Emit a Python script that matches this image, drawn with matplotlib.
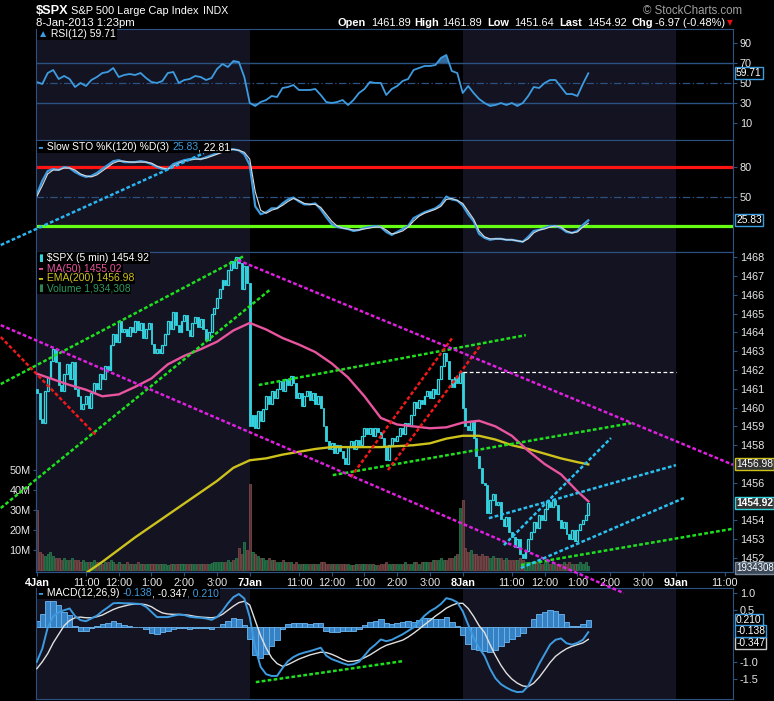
import numpy as np
import matplotlib
matplotlib.use("Agg")
import matplotlib.pyplot as plt

W, H = 774, 701
plt.rcParams["font.family"] = ["Liberation Sans", "DejaVu Sans"]

# ---------------- DATA ----------------
# 5 min bars, 78 per session: 4Jan = 0..77, 7Jan = 78..155, 8Jan = 156..202
session_starts = [0, 78, 156, 234]
tick_bars = [0, 18, 30, 42, 54, 66, 78, 96, 108, 120, 132, 144,
             156, 174, 186, 198, 210, 222, 234, 252]
tick_labels = ["4Jan", "11:00", "12:00", "1:00", "2:00", "3:00",
               "7Jan", "11:00", "12:00", "1:00", "2:00", "3:00",
               "8Jan", "11:00", "12:00", "1:00", "2:00", "3:00",
               "9Jan", "11:00"]
day_labels = ["4Jan", "7Jan", "8Jan", "9Jan"]

first_open = 1461.0
closes = [
    # 4Jan
    1460.8, 1459.4, 1459.2, 1460.9, 1461.6, 1462.5, 1463.1, 1462.4, 1461.2, 1460.9,
    1461.8, 1462.3, 1461.5, 1462.4, 1461.0, 1460.6, 1459.9, 1460.2, 1460.6, 1460.0,
    1460.8, 1461.3, 1461.0, 1461.8, 1461.5, 1462.2, 1462.0, 1463.3, 1463.9, 1463.5,
    1464.6, 1464.0, 1464.2, 1463.8, 1464.3, 1464.0, 1464.6, 1464.1, 1464.5, 1463.7,
    1464.2, 1464.5, 1463.4, 1462.9, 1463.1, 1462.9, 1463.3, 1463.9, 1464.6, 1464.2,
    1465.1, 1464.4, 1464.0, 1464.6, 1464.9, 1464.1, 1463.8, 1464.5, 1464.8, 1464.3,
    1464.7, 1464.2, 1463.6, 1464.0, 1465.0, 1465.3, 1465.8, 1466.3, 1466.8, 1466.5,
    1467.3, 1467.8, 1467.4, 1468.0, 1467.7, 1466.3, 1467.5, 1466.6,
    # 7Jan
    1459.0, 1459.6, 1458.9, 1459.8, 1459.3, 1459.9, 1460.6, 1460.2, 1460.9, 1460.5,
    1461.0, 1461.4, 1460.9, 1461.5, 1461.2, 1461.7, 1461.3, 1460.5, 1460.8, 1460.1,
    1460.6, 1460.9, 1460.4, 1460.8, 1460.2, 1460.6, 1460.0, 1459.0, 1458.2, 1457.8,
    1458.1, 1457.6, 1458.0, 1457.7, 1457.3, 1457.0, 1457.9, 1458.2, 1457.8, 1458.3,
    1458.0, 1458.5, 1458.9, 1458.6, 1458.9, 1458.5, 1458.9, 1458.7, 1458.4, 1457.9,
    1457.2, 1458.0, 1458.4, 1458.2, 1458.5, 1458.9, 1458.6, 1459.2, 1459.0, 1459.6,
    1460.3, 1460.0, 1460.4, 1460.2, 1460.6, 1460.9, 1460.5, 1461.0, 1460.7, 1461.5,
    1462.2, 1462.9, 1462.5, 1461.5, 1461.1, 1461.6, 1461.3, 1461.9,
    # 8Jan
    1460.0, 1459.0, 1458.8, 1459.3, 1458.4, 1457.4, 1456.8, 1456.0, 1455.9, 1454.4,
    1455.1, 1455.4, 1454.8, 1455.0, 1454.1, 1453.7, 1454.2, 1453.4, 1453.1, 1452.6,
    1453.0, 1452.2, 1452.0, 1452.4, 1453.0, 1453.4, 1453.9, 1453.6, 1454.3, 1454.0,
    1454.6, 1455.0, 1454.7, 1455.1, 1454.8, 1454.0, 1453.6, 1453.9, 1453.3, 1453.0,
    1453.5, 1452.9, 1453.5, 1453.8, 1454.0, 1454.3, 1454.92,
]

volume_m = [
    # 4Jan
    30, 9, 8, 7, 8, 9, 7, 6, 6, 5,
    6, 5, 5, 6, 5, 5, 4, 5, 4, 4,
    4, 5, 4, 4, 3, 4, 4, 5, 4, 3,
    4, 3, 3, 4, 3, 3, 3, 4, 3, 3,
    3, 3, 3, 3, 3, 3, 3, 3, 2.5, 3,
    3, 3, 3, 3, 3, 3, 3, 3, 3, 3,
    3, 3, 3, 3, 3.5, 4, 4, 4, 4, 4,
    5, 4, 5, 6, 11, 8, 14, 10,
    # 7Jan
    43, 9, 8, 7, 6, 6, 5, 6, 5, 5,
    4, 4, 5, 4, 4, 4, 3, 4, 3, 3,
    3, 3, 3, 3, 3, 3, 4, 4, 3, 3,
    3, 3, 3, 3, 3, 3, 3, 2.5, 2.5, 3,
    3, 3, 3, 3, 3, 3, 2.5, 2.5, 3, 3,
    4, 3, 3, 3, 3, 3, 3, 4, 3, 3,
    4, 4, 3, 4, 4, 4, 4, 5, 5, 5,
    6, 5, 5, 6, 6, 7, 8, 31,
    # 8Jan
    35, 11, 9, 10, 8, 8, 7, 8, 7, 7,
    6, 7, 6, 6, 6, 5, 6, 5, 5, 5,
    5, 6, 5, 4, 4, 4, 4, 4, 4, 3,
    4, 4, 3, 4, 3, 3, 3, 4, 3, 4,
    3, 3, 3, 4, 3, 4, 1.93,
]

# indicators read every 2 bars
t2 = np.arange(0, 203, 2)
rsi = [
    51, 49, 60, 63, 54, 57, 54, 46, 50, 47,
    53, 56, 60, 61, 65, 56, 58, 59, 58, 60,
    55, 51, 50, 52, 60, 61, 50, 53, 54, 57,
    56, 53, 55, 64, 69, 66, 72, 71, 56, 30,
    27, 31, 33, 37, 36, 45, 46, 48, 43, 43,
    43, 44, 38, 31, 30, 31, 33, 28, 33, 40,
    44, 51, 50, 50, 38, 44, 47, 52, 54, 63,
    65, 67, 67, 68, 75, 78, 62, 60, 40, 47,
    40, 34, 30, 27, 28, 30, 28, 30, 27, 30,
    37, 46, 45, 50, 53, 53, 46, 39, 39, 37,
    49, 59.71,
]
sto_k = [
    52, 66, 76, 78, 77, 80, 79, 75, 72, 70,
    71, 74, 78, 82, 86, 87, 85, 85, 85, 86,
    85, 83, 80, 78, 78, 83, 85, 87, 88, 89,
    88, 90, 92, 94, 96, 98, 98, 97, 93, 82,
    40, 32, 34, 38, 38, 43, 47, 49, 45, 42,
    42, 43, 37, 29, 22, 19, 18, 17, 15, 16,
    18, 19, 20, 19, 14, 11, 14, 17, 20, 28,
    31, 34, 36, 38, 42, 50, 47, 46, 41, 32,
    25, 12, 8, 6, 7, 7, 6, 6, 5, 4,
    9, 15, 16, 18, 20, 20, 18, 14, 13, 15,
    21, 25.83,
]
sto_d = [
    50, 61, 73, 77, 77, 79, 79, 77, 73, 71,
    70, 72, 76, 80, 84, 86, 86, 85, 85, 85,
    85, 84, 81, 79, 78, 81, 84, 86, 87, 88,
    88, 89, 91, 93, 95, 97, 98, 97, 95, 88,
    55, 36, 33, 36, 38, 41, 45, 48, 46, 43,
    42, 42, 39, 32, 25, 20, 18, 17, 16, 16,
    17, 18, 19, 19, 16, 12, 13, 15, 19, 25,
    30, 33, 35, 37, 40, 47, 48, 46, 43, 35,
    27, 15, 9, 7, 7, 7, 6, 6, 5, 4,
    7, 13, 16, 17, 19, 20, 19, 15, 13, 14,
    19, 22.81,
]
macd_line = [
    -1.0, -0.62, 0.0, 0.32, 0.44, 0.5, 0.55, 0.33, 0.21, 0.18,
    0.26, 0.34, 0.47, 0.58, 0.7, 0.71, 0.7, 0.7, 0.69, 0.68,
    0.6, 0.45, 0.3, 0.3, 0.3, 0.34, 0.37, 0.36, 0.31, 0.29,
    0.28, 0.26, 0.22, 0.3, 0.48, 0.7, 0.88, 0.97, 0.84, 0.3,
    -0.6, -1.15, -1.36, -1.41, -1.41, -1.18, -0.98, -0.86, -0.78, -0.73,
    -0.69, -0.64, -0.59, -0.82, -0.92, -0.98, -1.04, -1.09, -1.07, -1.0,
    -0.82, -0.63, -0.5, -0.35, -0.4, -0.36, -0.28, -0.2, -0.1, 0.0,
    0.17, 0.34, 0.47, 0.56, 0.68, 0.85, 0.81, 0.73, 0.47, 0.08,
    -0.3, -0.6, -0.83, -1.2, -1.48, -1.65, -1.75, -1.83, -1.88, -1.87,
    -1.7, -1.38, -1.06, -0.78, -0.5, -0.36, -0.32, -0.46, -0.5, -0.45,
    -0.36, -0.138,
]
macd_signal = [
    -1.2, -1.0, -0.76, -0.45, -0.2, 0.05, 0.2, 0.28, 0.3, 0.28,
    0.28, 0.31, 0.36, 0.44, 0.52, 0.58, 0.62, 0.66, 0.68, 0.68,
    0.66, 0.6, 0.5, 0.42, 0.39, 0.38, 0.38, 0.37, 0.35, 0.32,
    0.3, 0.29, 0.28, 0.3, 0.38, 0.5, 0.62, 0.72, 0.76, 0.65,
    0.2, -0.25, -0.6, -0.88, -1.05, -1.13, -1.08, -1.0, -0.92, -0.86,
    -0.8, -0.76, -0.72, -0.73, -0.78, -0.85, -0.93, -0.99, -0.98, -0.95,
    -0.88, -0.8, -0.7, -0.6, -0.52, -0.47, -0.42, -0.37, -0.28, -0.17,
    -0.05, 0.08, 0.2, 0.33, 0.44, 0.56, 0.64, 0.7, 0.7, 0.55,
    0.32, 0.05, -0.15, -0.5, -0.82, -1.1, -1.33, -1.5, -1.62, -1.7,
    -1.72, -1.62, -1.45, -1.24, -1.02, -0.84, -0.72, -0.62, -0.55, -0.5,
    -0.45, -0.347,
]

# moving averages read every 6 bars
t6 = list(range(0, 199, 6)) + [202]
ma50 = [1461.8, 1461.5, 1461.2, 1460.95, 1460.6, 1460.7, 1461.1, 1461.55, 1462.3, 1462.75,
        1463.1, 1463.5, 1464.1, 1464.5, 1464.15, 1463.7, 1463.35, 1462.95, 1462.35, 1461.6,
        1460.6, 1459.45, 1459.1, 1459.0, 1458.9, 1458.95, 1459.2, 1459.3, 1459.0, 1458.5,
        1457.7, 1457.0, 1456.45, 1455.55, 1455.02]
ema200 = [1449.3, 1449.9, 1450.5, 1451.2, 1451.8, 1452.45, 1453.1, 1453.7, 1454.3, 1454.9,
          1455.5, 1456.1, 1456.8, 1457.2, 1457.3, 1457.5, 1457.65, 1457.8, 1457.9, 1457.9,
          1457.9, 1457.9, 1457.95, 1458.0, 1458.1, 1458.35, 1458.5, 1458.5, 1458.3, 1458.0,
          1457.8, 1457.55, 1457.3, 1457.1, 1456.98]

# hand drawn trend lines: (bar0, value0, bar1, value1)
green_lines = [(-13.2, 1461.25, 75.8, 1468.05), (-13.2, 1454.66, 85.7, 1466.30),
               (81.3, 1461.20, 179.1, 1463.85), (108.4, 1456.41, 217.6, 1459.17),
               (177.3, 1451.63, 255.0, 1453.56)]
red_lines = [(-13.2, 1463.75, 21.6, 1458.54), (115.0, 1456.30, 152.4, 1463.75),
             (128.6, 1456.68, 162.6, 1463.32)]
magenta_lines = [(73.6, 1467.84, 255.0, 1456.96), (-13.2, 1464.38, 215.0, 1450.14)]
cyan_lines = [(171.1, 1452.69, 210.3, 1458.38), (165.6, 1454.12, 234.1, 1456.94),
              (177.3, 1451.47, 237.0, 1455.19)]
open_level = 1461.89
sto_line = (-13.2, 0.7, 61.2, 94.2)
macd_trend = (80.2, -1.59, 134.1, -0.98)

# ---------------- STYLE ----------------
BG = "black"
SHADE = "#131322"
EDGE = "#2b5280"
TXT = "#e8e8e8"
BLUE = "#3d9be0"
CYAN = "#34d3e0"
PINK = "#e8559e"
YELLOW = "#cdc21c"
DOT = (0, (1.5, 0.9))

closes = np.array(closes)
opens = np.concatenate([[first_open], closes[:-1]])
bars = np.arange(len(closes))
rsi = np.array(rsi)
macd_line = np.array(macd_line)
macd_signal = np.array(macd_signal)
macd_hist = macd_line - macd_signal

fig = plt.figure(figsize=(W / 100, H / 100), dpi=100, facecolor=BG)


def panel(top, bottom, z=1):
    ax = fig.add_axes([36 / W, 1 - bottom / H, 697 / W, (bottom - top) / H], zorder=z)
    ax.set_facecolor(BG)
    ax.set_xlim(-0.3, 255)
    for s in ax.spines.values():
        s.set_color(EDGE)
    ax.set_xticks([])
    ax.yaxis.tick_right()
    ax.tick_params(axis="y", colors=EDGE, labelcolor=TXT, labelsize=7.8, length=3, pad=2)
    ax.axvspan(-0.3, session_starts[1], color=SHADE, lw=0, zorder=0)
    ax.axvspan(session_starts[2], session_starts[3], color=SHADE, lw=0, zorder=0)
    return ax


def tag(ax, y, s, edge, face="black", color="white", bold=False, dy=0, size=7.4):
    ax.annotate(s, xy=(1, y), xycoords=("axes fraction", "data"), xytext=(2.2, dy),
                textcoords="offset points", ha="left", va="center", fontsize=size,
                color=color, fontweight="bold" if bold else "normal",
                bbox=dict(boxstyle="square,pad=0.1", fc=face, ec=edge, lw=1),
                annotation_clip=False, zorder=30)


def trend(ax, seg, color, lw=1.8):
    ax.plot([seg[0], seg[2]], [seg[1], seg[3]], color=color, lw=lw, ls=DOT,
            clip_on=False, zorder=8)


# ---------------- RSI ----------------
ax_rsi = panel(29, 140)
ax_rsi.set_ylim(-7, 104)
ax_rsi.set_yticks([10, 30, 50, 70, 90])
ax_rsi.axhline(70, color=EDGE, lw=1)
ax_rsi.axhline(30, color=EDGE, lw=1)
ax_rsi.axhline(50, color=EDGE, lw=0.9, ls=(0, (6, 2, 1, 2)))
ax_rsi.fill_between(t2, rsi, 70, where=rsi > 70, interpolate=True, color="#356a9e", lw=0)
ax_rsi.fill_between(t2, rsi, 30, where=rsi < 30, interpolate=True, color="#356a9e", lw=0)
ax_rsi.plot(t2, rsi, color=BLUE, lw=1.3)
tag(ax_rsi, 59.71, "59.71", BLUE)

# ---------------- SLOW STO ----------------
ax_sto = panel(140, 252)
ax_sto.set_ylim(-6.4, 107.5)
ax_sto.set_yticks([50, 80])
ax_sto.axhline(50, color=EDGE, lw=0.9, ls=(0, (6, 2, 1, 2)))
ax_sto.axhline(80, color="#ff1414", lw=2.3)
ax_sto.axhline(20, color="#66ff14", lw=2.3)
ax_sto.plot(t2, sto_k, color=BLUE, lw=1.6)
ax_sto.plot(t2, sto_d, color="#d8d8d8", lw=0.8)
trend(ax_sto, sto_line, "#2bb5f0")
tag(ax_sto, 25.83, "25.83", BLUE)

# ---------------- PRICE + VOLUME ----------------
ax_vol = panel(252, 572, z=3)
ax_vol.set_ylim(-1, 159)
up = closes >= opens
ax_vol.bar(bars, volume_m, width=0.75, bottom=0,
           color=np.where(up, "#1b5a38", "#5a3434"),
           edgecolor=np.where(up, "#2c8552", "#875050"), lw=0.5, zorder=2)
ax_vol.set_xticks(tick_bars, tick_labels)
ax_vol.tick_params(axis="x", colors=EDGE, labelcolor=TXT, labelsize=7.8, length=3, pad=1.5)
for lab in ax_vol.get_xticklabels():
    if lab.get_text() in day_labels:
        lab.set_fontweight("bold")
        lab.set_color("white")
ax_vol.yaxis.tick_left()
ax_vol.set_yticks([10, 20, 30, 40, 50], ["10M", "20M", "30M", "40M", "50M"])
ax_vol.tick_params(axis="y", colors=EDGE, labelcolor=TXT, labelsize=7.8, length=2, pad=2)

ax_px = ax_vol.twinx()
ax_px.set_zorder(4)
ax_px.patch.set_visible(False)
ax_px.set_ylim(1451.26, 1468.27)
ax_px.set_yticks([1452, 1453, 1454, 1456, 1458, 1459, 1460, 1461, 1462,
                  1463, 1464, 1465, 1466, 1467, 1468])
ax_px.tick_params(axis="y", colors=EDGE, labelcolor=TXT, labelsize=7.8, length=3, pad=2)
for s in ax_px.spines.values():
    s.set_color(EDGE)

body_lo = np.minimum(opens, closes)
body_h = np.maximum(np.abs(closes - opens), 0.06)
ax_px.bar(bars[up], body_h[up], bottom=body_lo[up], width=0.7,
          facecolor="none", edgecolor=CYAN, lw=0.9, zorder=5)
ax_px.bar(bars[~up], body_h[~up], bottom=body_lo[~up], width=0.7,
          color=CYAN, edgecolor=CYAN, lw=0.6, zorder=5)

ax_px.plot(t6, ema200, color=YELLOW, lw=1.7, zorder=6)
ax_px.plot(t6, ma50, color=PINK, lw=1.7, zorder=6)

for seg in green_lines:
    trend(ax_px, seg, "#1fe01f")
for seg in red_lines:
    trend(ax_px, seg, "#ee1a1a")
for seg in magenta_lines:
    trend(ax_px, seg, "#e020e0")
for seg in cyan_lines:
    trend(ax_px, seg, "#2bc0ee")
ax_px.plot([session_starts[2], session_starts[3]], [open_level, open_level],
           color="white", lw=0.9, ls=(0, (3, 2)), zorder=7)

tag(ax_px, 1456.98, "1456.98", YELLOW, face="#333333")
tag(ax_px, 1454.92, "1454.92", CYAN, face="#333333", bold=True)
tag(ax_vol, 1.93, "1934308", "#7a8a9a", face="#3a4858", dy=-1.5, size=7.0)

# ---------------- MACD ----------------
ax_m = panel(588, 699)
ax_m.set_ylim(-2.08, 1.145)
ax_m.set_yticks([1.0, 0.5, -1.0, -1.5], ["1.0", "0.5", "-1.0", "-1.5"])
ax_m.bar(t2, macd_hist, width=2.0, color="#3680c4", edgecolor="#6cb8f0", lw=0.6, zorder=2)
ax_m.plot(t2, macd_signal, color="#e0e0e0", lw=1.0, zorder=3)
ax_m.plot(t2, macd_line, color=BLUE, lw=1.4, zorder=3)
trend(ax_m, macd_trend, "#1fe01f")
tag(ax_m, 0.210, "0.210", BLUE)
tag(ax_m, -0.347, "-0.347", "#cccccc", dy=-2.5)
tag(ax_m, -0.138, "-0.138", BLUE, dy=0.5)

# ---------------- TEXT ----------------
renderer = fig.canvas.get_renderer()


def seq_text(x, y, parts, size=7.5, box=True):
    for s, color in parts:
        t = fig.text(x / W, 1 - y / H, s, color=color, fontsize=size,
                     va="center", ha="left", zorder=40,
                     bbox=dict(fc="black", ec="none", pad=0.6) if box else None)
        x += t.get_window_extent(renderer).width


seq_text(38, 34, [("▲", BLUE), (" RSI(12) 59.71", "white")])
seq_text(38, 147, [("━", BLUE), (" Slow STO %K(120) %D(3) ", "white"),
                   ("25.83", BLUE), (", 22.81", "white")])
seq_text(38, 258, [("▮", CYAN), (" $SPX (5 min) 1454.92", "white")])
seq_text(38, 268.5, [("━", PINK), (" MA(50) 1455.02", PINK)])
seq_text(38, 278.5, [("━", YELLOW), (" EMA(200) 1456.98", YELLOW)])
seq_text(38, 288.5, [("▮", "#2c8552"), (" Volume 1,934,308", "#2c9a62")])
seq_text(38, 593, [("━", BLUE), (" MACD(12,26,9) ", "white"), ("-0.138", BLUE),
                   (", -0.347", "white"), (", 0.210", BLUE)])

fig.text(36 / W, 1 - 11 / H, "$SPX", fontsize=9.2, fontweight="bold", color="white", va="center")
fig.text(71 / W, 1 - 11 / H, "S&P 500 Large Cap Index", fontsize=7.9, color="white", va="center")
fig.text(203 / W, 1 - 11 / H, "INDX", fontsize=7.6, color="white", va="center")
fig.text(36 / W, 1 - 22.5 / H, "8-Jan-2013 1:23pm", fontsize=8.2, color="white", va="center")
fig.text(643 / W, 1 - 10.5 / H, "© StockCharts.com", fontsize=8.3, color="#a0a0a0", va="center")

quote = [(338, "Open", "bold"), (371, "1461.89", "normal"), (414, "High", "bold"),
         (442, "1461.89", "normal"), (487, "Low", "bold"), (514, "1451.64", "normal"),
         (559, "Last", "bold"), (587, "1454.92", "normal"), (631, "Chg", "bold"),
         (655, "-6.97 (-0.48%)", "normal")]
for x, s, wgt in quote:
    fig.text(x / W, 1 - 22.5 / H, s, fontsize=7.9, fontweight=wgt, color="white", va="center")
fig.text(727 / W, 1 - 23 / H, "▼", fontsize=5.5, color="#e01010", va="center", family="DejaVu Sans")

fig.savefig("out.png", dpi=100, facecolor=BG)
